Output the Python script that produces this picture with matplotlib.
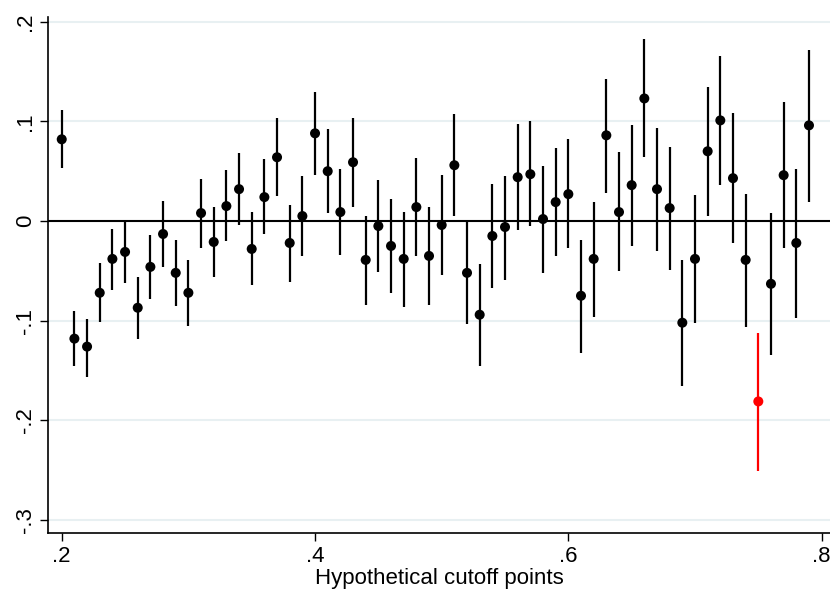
import numpy as np
import matplotlib.pyplot as plt

cutoffs = [round(0.20 + 0.01 * i, 2) for i in range(60)]

estimates = [
    0.082, -0.118, -0.126, -0.072, -0.038, -0.031, -0.087, -0.046, -0.013, -0.052,
    -0.072, 0.008, -0.021, 0.015, 0.032, -0.028, 0.024, 0.064, -0.022, 0.005,
    0.088, 0.050, 0.009, 0.059, -0.039, -0.005, -0.025, -0.038, 0.014, -0.035,
    -0.004, 0.056, -0.052, -0.094, -0.015, -0.006, 0.044, 0.047, 0.002, 0.019,
    0.027, -0.075, -0.038, 0.086, 0.009, 0.036, 0.123, 0.032, 0.013, -0.102,
    -0.038, 0.070, 0.101, 0.043, -0.039, -0.181, -0.063, 0.046, -0.022, 0.096,
]
ci_upper = [
    0.111, -0.090, -0.098, -0.042, -0.008, 0.000, -0.056, -0.014, 0.020, -0.019,
    -0.039, 0.042, 0.014, 0.051, 0.068, 0.009, 0.062, 0.103, 0.016, 0.045,
    0.129, 0.092, 0.052, 0.103, 0.005, 0.041, 0.022, 0.009, 0.063, 0.014,
    0.046, 0.107, -0.001, -0.043, 0.037, 0.045, 0.097, 0.100, 0.055, 0.073,
    0.082, -0.019, 0.019, 0.143, 0.069, 0.096, 0.183, 0.093, 0.074, -0.039,
    0.026, 0.134, 0.166, 0.108, 0.027, -0.112, 0.008, 0.119, 0.052, 0.172,
]
ci_lower = [
    0.053, -0.145, -0.156, -0.101, -0.069, -0.062, -0.118, -0.078, -0.046, -0.085,
    -0.105, -0.027, -0.056, -0.020, -0.004, -0.064, -0.013, 0.025, -0.061, -0.035,
    0.046, 0.008, -0.034, 0.014, -0.084, -0.051, -0.072, -0.086, -0.035, -0.084,
    -0.054, 0.005, -0.103, -0.145, -0.067, -0.059, -0.009, -0.005, -0.052, -0.035,
    -0.027, -0.132, -0.096, 0.028, -0.050, -0.025, 0.064, -0.030, -0.049, -0.166,
    -0.102, 0.005, 0.036, -0.022, -0.106, -0.251, -0.134, -0.027, -0.097, 0.019,
]
true_cutoff = 0.75

yticks = [0.2, 0.1, 0.0, -0.1, -0.2, -0.3]
ytick_labels = ['.2', '.1', '0', '-.1', '-.2', '-.3']
xticks = [0.2, 0.4, 0.6, 0.8]
xtick_labels = ['.2', '.4', '.6', '.8']

plt.rcParams['font.family'] = ['Liberation Sans', 'DejaVu Sans']

fig = plt.figure(figsize=(8.3, 5.93), dpi=100)
ax = fig.add_axes([0.0582, 0.1007, 0.9418, 0.8711])

x = np.array(cutoffs)
est = np.array(estimates)
lo = np.array(ci_lower)
hi = np.array(ci_upper)
colors = ['red' if abs(c - true_cutoff) < 1e-9 else 'black' for c in cutoffs]

for yt in yticks:
    ax.axhline(yt, color='#e8f0f2', lw=1.5, zorder=0)
ax.axhline(0, color='black', lw=1.5, zorder=1)

ax.vlines(x, lo, hi, colors=colors, lw=1.6, zorder=2)
ax.scatter(x, est, c=colors, s=52, zorder=3, linewidths=0)

ax.set_xlim(0.1894, 0.8066)
ax.set_ylim(-0.3133, 0.2050)
ax.set_xticks(xticks)
ax.set_xticklabels(xtick_labels, fontsize=16)
ax.set_yticks(yticks)
ax.set_yticklabels(ytick_labels, fontsize=16, rotation=90, va='center')
ax.tick_params(length=6, width=1, color='black', pad=3)
ax.set_xlabel('Hypothetical cutoff points', fontsize=16, labelpad=1)

ax.spines['top'].set_visible(False)
ax.spines['right'].set_visible(False)
ax.spines['left'].set_linewidth(1.2)
ax.spines['bottom'].set_linewidth(1.2)

fig.savefig('out.png', dpi=100)
